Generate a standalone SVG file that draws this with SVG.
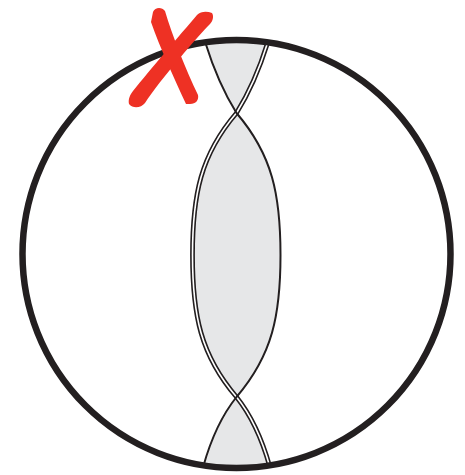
<svg xmlns="http://www.w3.org/2000/svg" width="465" height="475" viewBox="0 0 465 475">
  <style>
    .ring { fill: none; stroke: #231f20; stroke-width: 6.5; }
    .fill { fill: #e6e7e8; stroke: none; }
    .single { fill: none; stroke: #231f20; stroke-width: 2; }
    .dbl-outer { fill: none; stroke: #231f20; stroke-width: 4.8; }
    .dbl-inner { fill: none; stroke: #ffffff; stroke-width: 1.6; }
    .x { fill: #ee3124; stroke: none; }
  </style>
  <defs>
    <clipPath id="inside">
      <circle cx="236.5" cy="254" r="212"/>
    </clipPath>
  </defs>
  <rect width="465" height="475" fill="#ffffff"/>
  <g id="wave" clip-path="url(#inside)">
    <path class="fill" d="M191.5,-29 C193.5,13 211.5,73 236.5,113 C272.5,155 280.5,195 280.5,255 C280.5,315 272.5,355 236.5,397 C204.5,437 194.5,497 190.5,539 L282.5,539 C278.5,497 268.5,437 236.5,397 C200.5,355 192.5,315 192.5,255 C192.5,195 200.5,155 236.5,113 C261.5,73 279.5,13 281.5,-29 Z"/>
    <path class="dbl-outer" d="M281.5,-29 C279.5,13 261.5,73 236.5,113 C200.5,155 192.5,195 192.5,255 C192.5,315 200.5,355 236.5,397 C268.5,437 278.5,497 282.5,539"/>
    <path class="dbl-inner" d="M281.5,-29 C279.5,13 261.5,73 236.5,113 C200.5,155 192.5,195 192.5,255 C192.5,315 200.5,355 236.5,397 C268.5,437 278.5,497 282.5,539"/>
    <path class="single" d="M191.5,-29 C193.5,13 211.5,73 236.5,113 C272.5,155 280.5,195 280.5,255 C280.5,315 272.5,355 236.5,397 C204.5,437 194.5,497 190.5,539"/>
  </g>
  <g id="circle">
    <circle class="ring" cx="236.5" cy="254" r="214"/>
  </g>
  <g id="cross">
    <path class="x" d="M153,12 C155,7 162,7 165,11 C172,35 186,70 198,95 C199,100 196,104 190,104 L186,104 C175,80 160,48 151,22 Z"/>
    <path class="x" d="M197,15 C201,11 207,11 212,13 C214,16 213,21 210,24 C200,34 160,80 145,103 C141,108 133,109 129,104 C128,99 130,95 133,91 C150,70 180,35 197,15 Z"/>
  </g>
</svg>
